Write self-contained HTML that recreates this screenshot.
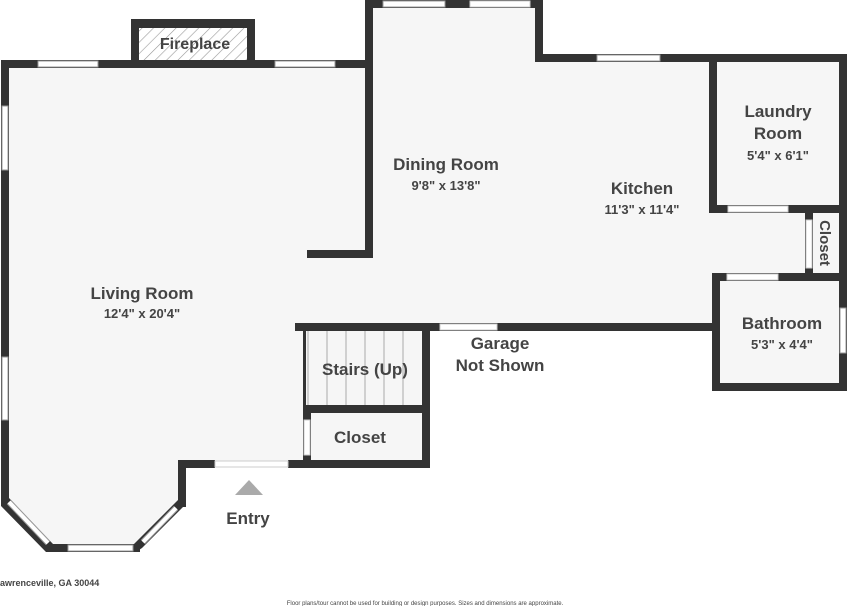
<!DOCTYPE html>
<html><head><meta charset="utf-8"><style>
html,body{margin:0;padding:0;background:#fff;width:850px;height:606px;overflow:hidden}
text{font-family:"Liberation Sans",sans-serif;fill:#444;text-anchor:middle}
.t{font-size:17px;font-weight:bold}
.d{font-size:13px;font-weight:bold}
</style></head><body>
<svg width="850" height="606" viewBox="0 0 850 606" xmlns="http://www.w3.org/2000/svg">
<defs>
<pattern id="h" width="8" height="8" patternUnits="userSpaceOnUse" patternTransform="rotate(45)">
<rect width="8" height="8" fill="#fff"/><line x1="0" y1="0" x2="0" y2="8" stroke="#999" stroke-width="1.2"/>
</pattern>
</defs>
<!-- floor -->
<g fill="#f6f6f6">
<polygon points="5,64 369,64 369,4 539,4 539,58 843,58 843,387 716,387 716,327 426,327 426,464 182,464 182,505 137,548 50,548 5,500"/>
</g>
<!-- stairs treads -->
<g stroke="#aaa" stroke-width="1">
<line x1="327" y1="331" x2="327" y2="405"/><line x1="346" y1="331" x2="346" y2="405"/>
<line x1="365" y1="331" x2="365" y2="405"/><line x1="384" y1="331" x2="384" y2="405"/>
<line x1="403" y1="331" x2="403" y2="405"/><line x1="308" y1="331" x2="308" y2="405"/>
</g>
<!-- walls -->
<g fill="#333">
<rect x="1" y="60" width="368" height="8"/>
<rect x="1" y="60" width="8" height="442"/>
<rect x="131" y="19" width="124" height="49"/>
<rect x="365" y="0" width="8" height="258"/>
<rect x="307" y="250" width="66" height="8"/>
<rect x="365" y="0" width="178" height="8"/>
<rect x="535" y="0" width="8" height="62"/>
<rect x="535" y="54" width="312" height="8"/>
<rect x="709" y="54" width="8" height="159"/>
<rect x="709" y="205" width="138" height="8"/>
<rect x="839" y="54" width="8" height="337"/>
<rect x="805" y="205" width="8" height="76"/>
<rect x="712" y="273" width="135" height="8"/>
<rect x="712" y="273" width="8" height="118"/>
<rect x="712" y="383" width="135" height="8"/>
<rect x="295" y="323" width="425" height="8"/>
<rect x="422" y="323" width="8" height="145"/>
<rect x="303" y="405" width="127" height="8"/>
<rect x="303" y="405" width="8" height="63"/>
<rect x="288" y="460" width="142" height="8"/>
<rect x="178" y="460" width="37" height="8"/>
<rect x="178" y="460" width="8" height="47"/>
<rect x="46" y="544" width="94" height="8"/>
<polygon points="1,498 9,498 53,544 46,552 1,506"/>
<polygon points="178,500 186,504 142,548 136,552 132,546"/>
</g>
<rect x="303" y="331" width="3" height="74" fill="#333"/>
<rect x="139" y="28" width="108" height="32" fill="url(#h)"/>
<!-- windows -->
<g fill="#fff" stroke="#999" stroke-width="1">
<rect x="38" y="61" width="60" height="6"/>
<rect x="275" y="61" width="60" height="6"/>
<rect x="383" y="1" width="62" height="6"/>
<rect x="597" y="55" width="63" height="6"/>
<rect x="2" y="106" width="6" height="64"/>
<rect x="2" y="357" width="6" height="63"/>
<rect x="68" y="545" width="65" height="6"/>
<rect x="840" y="308" width="6" height="45"/>
</g>
<g stroke="#999" stroke-width="6" fill="none">
<line x1="9" y1="502" x2="48" y2="543"/>
<line x1="176" y1="508" x2="143" y2="542"/>
</g>
<g stroke="#fff" stroke-width="4" fill="none">
<line x1="9" y1="502" x2="48" y2="543"/>
<line x1="176" y1="508" x2="143" y2="542"/>
</g>
<!-- door openings -->
<g fill="#fff" stroke="#ccc" stroke-width="1">
<rect x="470" y="1" width="60" height="6"/>
<rect x="728" y="206" width="60" height="6"/>
<rect x="806" y="220" width="6" height="48"/>
<rect x="727" y="274" width="51" height="6"/>
<rect x="440" y="324" width="57" height="6"/>
<rect x="304" y="420" width="6" height="35"/>
<rect x="215" y="461" width="73" height="6"/>
</g>
<polygon points="249,480 235,495 263,495" fill="#aaa"/>
<!-- labels -->
<text x="195" y="49" class="t" style="font-size:16px">Fireplace</text>
<text x="142" y="299" class="t">Living Room</text>
<text x="142" y="318" class="d">12'4" x 20'4"</text>
<text x="446" y="170" class="t">Dining Room</text>
<text x="446" y="190" class="d">9'8" x 13'8"</text>
<text x="642" y="194" class="t">Kitchen</text>
<text x="642" y="214" class="d">11'3" x 11'4"</text>
<text x="778" y="117" class="t">Laundry</text>
<text x="778" y="139" class="t">Room</text>
<text x="778" y="160" class="d">5'4" x 6'1"</text>
<text x="0" y="0" class="t" style="font-size:15px" transform="translate(820,243) rotate(90)">Closet</text>
<text x="782" y="329" class="t">Bathroom</text>
<text x="782" y="349" class="d">5'3" x 4'4"</text>
<text x="500" y="349" class="t">Garage</text>
<text x="500" y="371" class="t">Not Shown</text>
<text x="365" y="375" class="t">Stairs (Up)</text>
<text x="360" y="443" class="t">Closet</text>
<text x="248" y="524" class="t">Entry</text>
<text x="0" y="586" style="font-size:9px;font-weight:bold;text-anchor:start">awrenceville, GA 30044</text>
<text x="425" y="605" style="font-size:6px">Floor plans/tour cannot be used for building or design purposes. Sizes and dimensions are approximate.</text>
</svg>
</body></html>
